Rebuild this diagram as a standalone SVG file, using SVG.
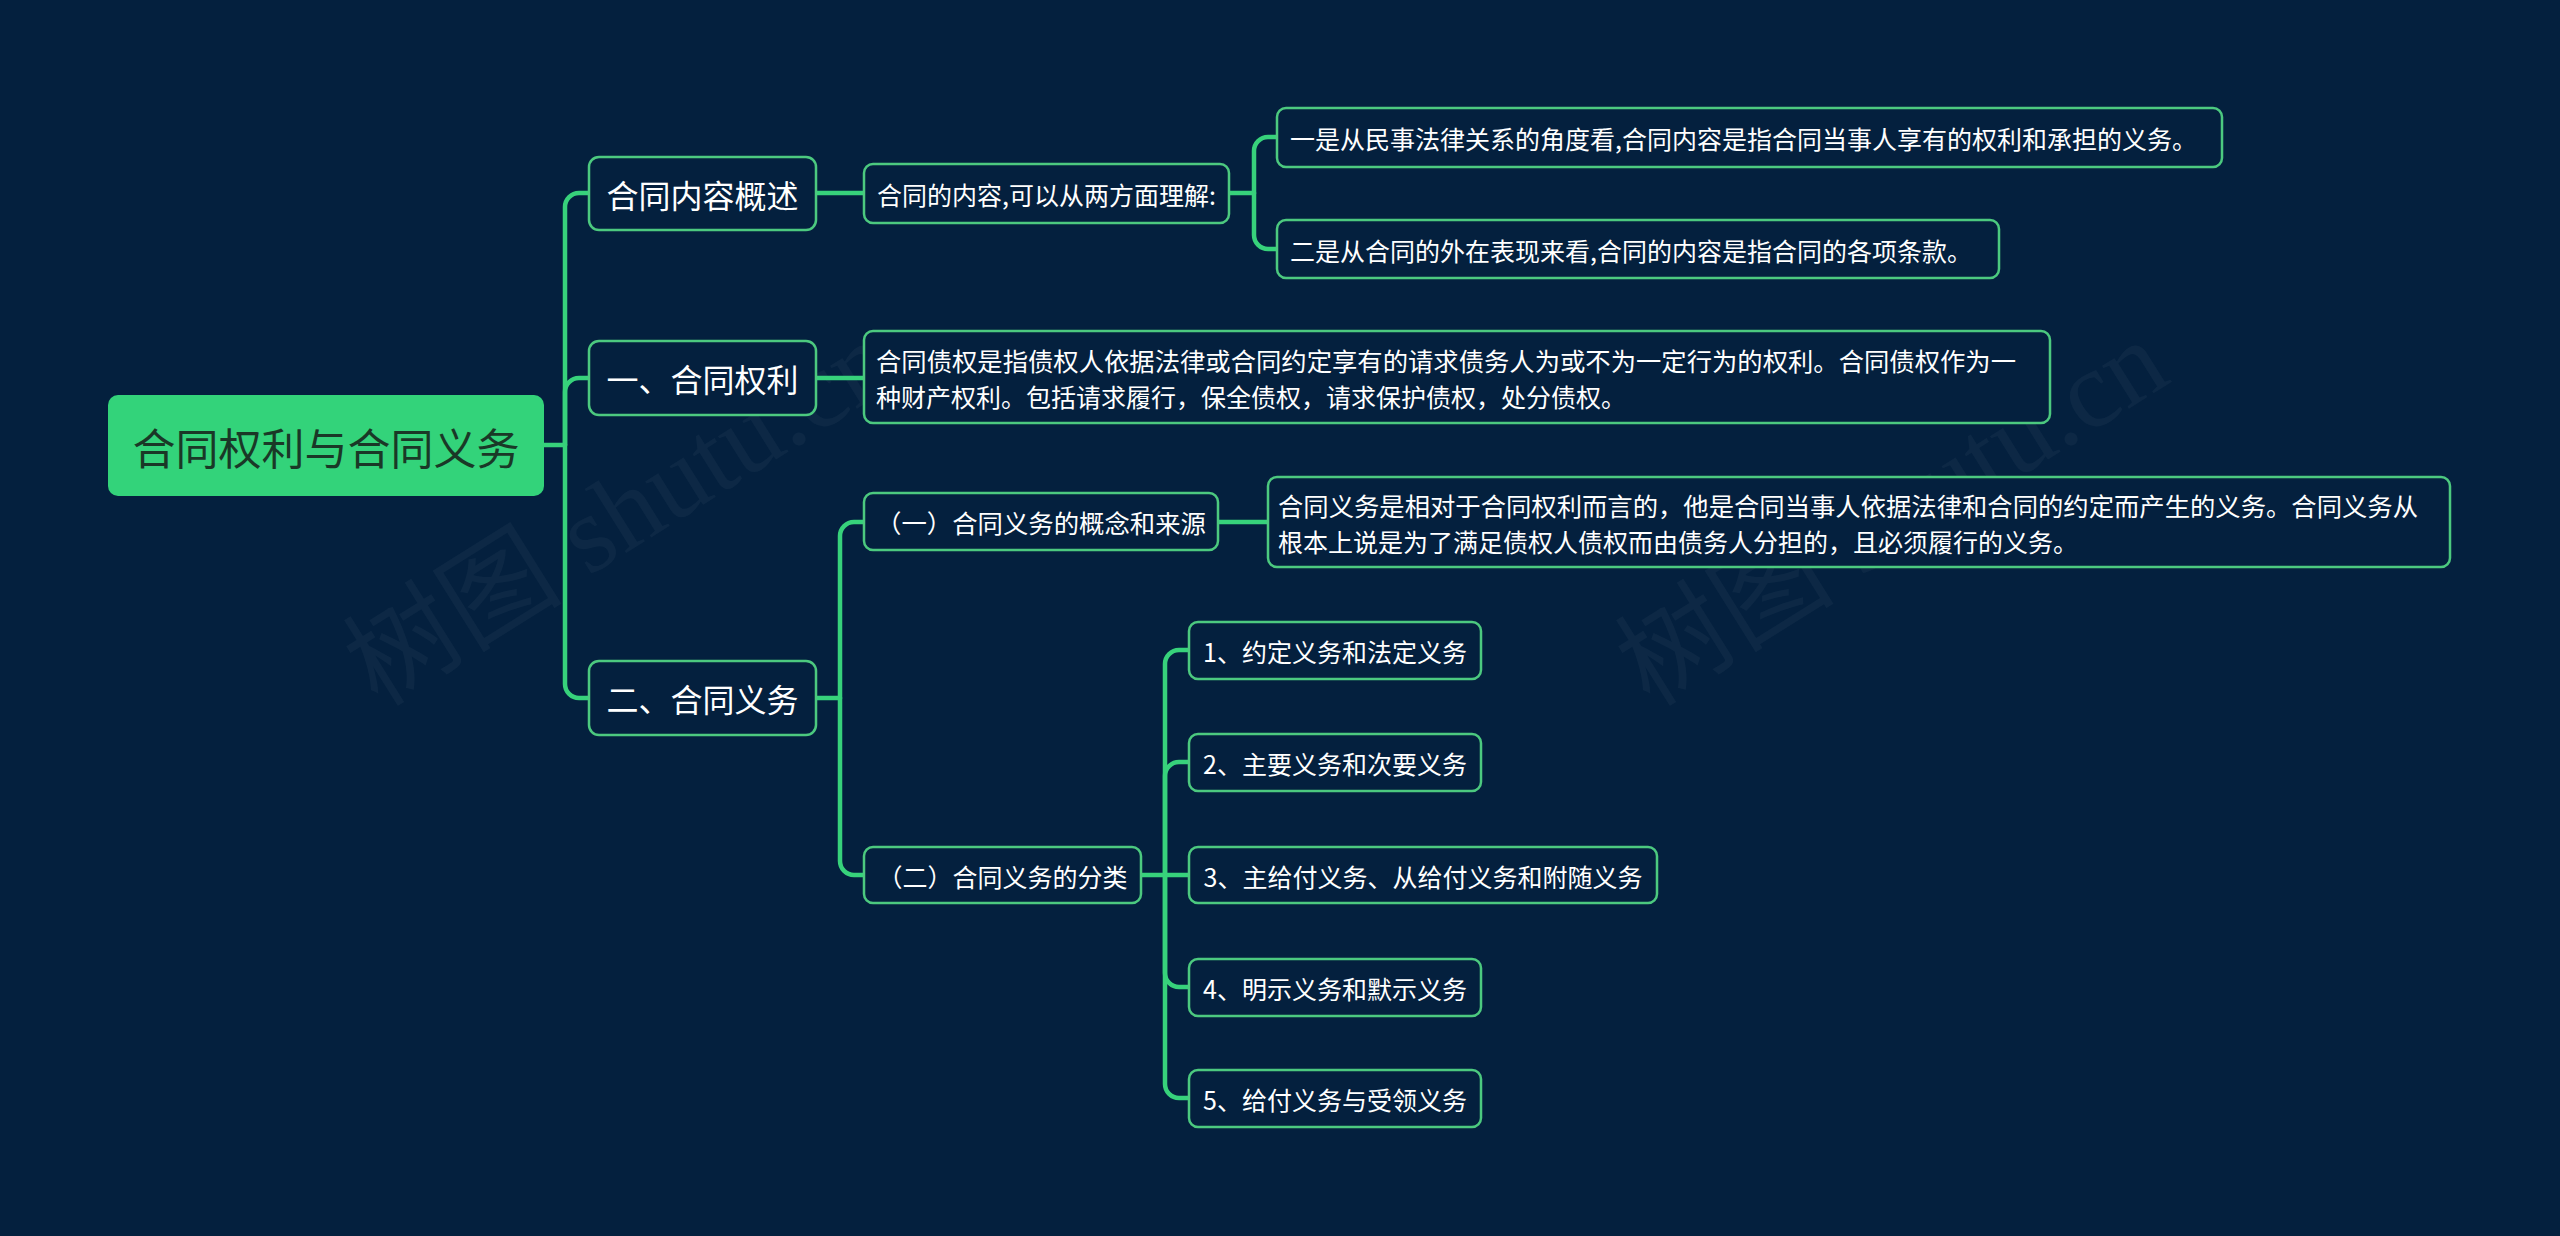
<svg xmlns="http://www.w3.org/2000/svg" width="2560" height="1236" viewBox="0 0 2560 1236">
<style>
text{font-family:"Noto Sans CJK SC","Noto Sans CJK TC",sans-serif;fill:#ffffff;}
.box{fill:#04203e;stroke:#4cc97f;stroke-width:2.5;}
.l1{font-size:32px;text-anchor:middle;dominant-baseline:central;}
.l2{font-size:25px;text-anchor:middle;dominant-baseline:central;}
.ml{font-size:25px;dominant-baseline:central;}
.conn path{fill:none;stroke:#37d27b;stroke-width:4.5;stroke-linecap:round;}
.wm{font-family:"Liberation Serif","Noto Sans CJK SC",serif;font-size:110px;fill:#ffffff;fill-opacity:0.04;}
</style>
<rect x="0" y="0" width="2560" height="1236" fill="#04203e"/>
<g id="watermarks">
<text class="wm" transform="translate(378,708) rotate(-32)">树图 shutu.cn</text>
<text class="wm" transform="translate(1650,708) rotate(-32)">树图 shutu.cn</text>
</g>
<g class="conn" id="connectors">
<path d="M544,445 H565"/>
<path d="M565,445 V207 A14,14 0 0 1 579,193 H590"/>
<path d="M565,445 V392 A14,14 0 0 1 579,378 H590"/>
<path d="M565,445 V684 A14,14 0 0 0 579,698 H590"/>
<path d="M816,193 H864"/>
<path d="M1229,193 H1254"/>
<path d="M1254,193 V151 A14,14 0 0 1 1268,137 H1278"/>
<path d="M1254,193 V235 A14,14 0 0 0 1268,249 H1278"/>
<path d="M816,378 H864"/>
<path d="M816,698 H840"/>
<path d="M840,698 V536 A14,14 0 0 1 854,522 H865"/>
<path d="M840,698 V861 A14,14 0 0 0 854,875 H865"/>
<path d="M1218,522 H1268"/>
<path d="M1141,875 H1190"/>
<path d="M1165,875 V664 A14,14 0 0 1 1179,650 H1190"/>
<path d="M1165,875 V776 A14,14 0 0 1 1179,762 H1190"/>
<path d="M1165,875 V973 A14,14 0 0 0 1179,987 H1190"/>
<path d="M1165,875 V1084 A14,14 0 0 0 1179,1098 H1190"/>
</g>
<g id="root">
<rect x="108" y="395" width="436" height="101" rx="10" fill="#33d37a"/>
<text x="326" y="446" font-size="43" text-anchor="middle" dominant-baseline="central" style="fill:#1a3827">合同权利与合同义务</text>
</g>
<g id="n-overview">
<rect class="box" x="589" y="157" width="227" height="73" rx="10"/>
<text class="l1" x="702.5" y="194">合同内容概述</text>
</g>
<g id="n-rights">
<rect class="box" x="589" y="341" width="227" height="74" rx="10"/>
<text class="l1" x="702.5" y="378">一、合同权利</text>
</g>
<g id="n-duties">
<rect class="box" x="589" y="661" width="227" height="74" rx="10"/>
<text class="l1" x="702.5" y="698">二、合同义务</text>
</g>
<g id="n-content">
<rect class="box" x="864" y="164" width="365" height="59" rx="9"/>
<text class="l2" x="1046.5" y="194">合同的内容,可以从两方面理解:</text>
</g>
<g id="n-content-1">
<rect class="box" x="1277" y="108" width="945" height="59" rx="9"/>
<text class="ml" x="1290" y="138">一是从民事法律关系的角度看,合同内容是指合同当事人享有的权利和承担的义务。</text>
</g>
<g id="n-content-2">
<rect class="box" x="1277" y="220" width="722" height="58" rx="9"/>
<text class="ml" x="1290" y="249.5">二是从合同的外在表现来看,合同的内容是指合同的各项条款。</text>
</g>
<g id="n-rights-desc">
<rect class="box" x="864" y="331" width="1186" height="92" rx="9"/>
<text class="ml" x="876" y="360" textLength="1140" lengthAdjust="spacingAndGlyphs">合同债权是指债权人依据法律或合同约定享有的请求债务人为或不为一定行为的权利。合同债权作为一</text>
<text class="ml" x="876" y="396">种财产权利。包括请求履行，保全债权，请求保护债权，处分债权。</text>
</g>
<g id="n-duty-concept">
<rect class="box" x="864" y="493" width="354" height="57" rx="9"/>
<text class="l2" x="1041" y="522" textLength="330" lengthAdjust="spacingAndGlyphs">（一）合同义务的概念和来源</text>
</g>
<g id="n-duty-concept-desc">
<rect class="box" x="1268" y="477" width="1182" height="90" rx="9"/>
<text class="ml" x="1278" y="505" textLength="1140" lengthAdjust="spacingAndGlyphs">合同义务是相对于合同权利而言的，他是合同当事人依据法律和合同的约定而产生的义务。合同义务从</text>
<text class="ml" x="1278" y="541">根本上说是为了满足债权人债权而由债务人分担的，且必须履行的义务。</text>
</g>
<g id="n-duty-class">
<rect class="box" x="864" y="847" width="277" height="56" rx="9"/>
<text class="l2" x="1002.5" y="875.5">（二）合同义务的分类</text>
</g>
<g id="n-class-1">
<rect class="box" x="1189" y="622" width="292" height="57" rx="9"/>
<text class="l2" x="1335" y="650.5">1、约定义务和法定义务</text>
</g>
<g id="n-class-2">
<rect class="box" x="1189" y="734" width="292" height="57" rx="9"/>
<text class="l2" x="1335" y="762.5">2、主要义务和次要义务</text>
</g>
<g id="n-class-3">
<rect class="box" x="1189" y="847" width="468" height="56" rx="9"/>
<text class="l2" x="1423" y="875.5">3、主给付义务、从给付义务和附随义务</text>
</g>
<g id="n-class-4">
<rect class="box" x="1189" y="959" width="292" height="57" rx="9"/>
<text class="l2" x="1335" y="987.5">4、明示义务和默示义务</text>
</g>
<g id="n-class-5">
<rect class="box" x="1189" y="1070" width="292" height="57" rx="9"/>
<text class="l2" x="1335" y="1098.5">5、给付义务与受领义务</text>
</g>
</svg>
